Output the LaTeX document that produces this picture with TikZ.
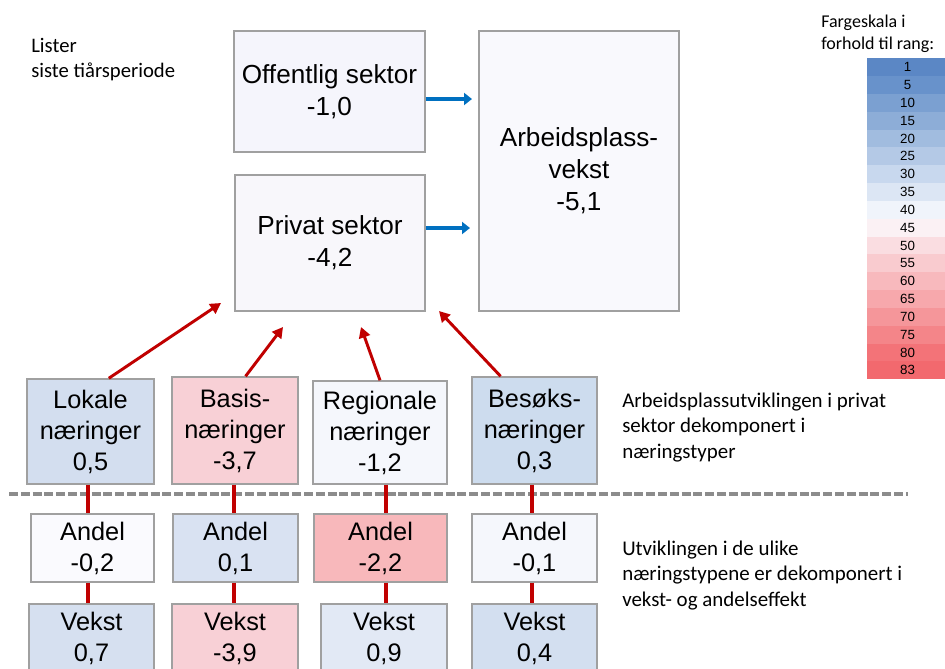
\documentclass[tikz,border=0pt]{standalone}
\usepackage{fontspec}
\setmainfont{Liberation Sans}
\newfontfamily\calib{Carlito}
\usetikzlibrary{arrows.meta}
\definecolor{boxgray}{HTML}{A0A0A0}
\definecolor{darkred}{HTML}{C00000}
\definecolor{arrowblue}{HTML}{0070C0}
\definecolor{dashgray}{HTML}{8C8C8C}
\definecolor{fOff}{HTML}{F5F5FC}
\definecolor{fPriv}{HTML}{F8F7FB}
\definecolor{fArb}{HTML}{F9F9FD}
\definecolor{fLok}{HTML}{D3DEEF}
\definecolor{fBas}{HTML}{F8D0D6}
\definecolor{fReg}{HTML}{F5F7FC}
\definecolor{fBes}{HTML}{CDDCEE}
\definecolor{fAlok}{HTML}{FAFAFE}
\definecolor{fAbas}{HTML}{D9E2F2}
\definecolor{fAreg}{HTML}{F8B8BB}
\definecolor{fAbes}{HTML}{F5F7FC}
\definecolor{fVlok}{HTML}{D6E0F0}
\definecolor{fVbas}{HTML}{F8D0D6}
\definecolor{fVreg}{HTML}{E2E9F5}
\definecolor{fVbes}{HTML}{D3DFF0}
\definecolor{s1}{HTML}{5B87C5}
\definecolor{s5}{HTML}{6892CB}
\definecolor{s10}{HTML}{7BA0D1}
\definecolor{s15}{HTML}{8DADD7}
\definecolor{s20}{HTML}{A1BCDF}
\definecolor{s25}{HTML}{B4C9E6}
\definecolor{s30}{HTML}{C8D8EE}
\definecolor{s35}{HTML}{DCE6F4}
\definecolor{s40}{HTML}{F0F4FB}
\definecolor{s45}{HTML}{FBF1F4}
\definecolor{s50}{HTML}{FADDE1}
\definecolor{s55}{HTML}{F9CBCF}
\definecolor{s60}{HTML}{F8B9BD}
\definecolor{s65}{HTML}{F7A8AC}
\definecolor{s70}{HTML}{F5969A}
\definecolor{s75}{HTML}{F48589}
\definecolor{s80}{HTML}{F37378}
\definecolor{s83}{HTML}{F2696E}
\begin{document}
\begin{tikzpicture}[x=0.75pt,y=-0.75pt,
  box/.style args={#1/#2}{draw=boxgray, line width=1.1pt, inner sep=0pt, align=center,
    minimum width=#1*0.75pt, minimum height=#2*0.75pt},
  topfont/.style={font=\fontsize{19.6}{24}\selectfont},
  botfont/.style={font=\fontsize{19}{23.25}\selectfont},
  bluearrow/.style={draw=arrowblue, line width=2.3pt, -{Triangle[length=6pt,width=9pt]}},
  redarrow/.style={draw=darkred, line width=2.2pt, -{Triangle[length=8pt,width=8.5pt]}},
  redline/.style={draw=darkred, line width=2.4pt},
  sidetext/.style={font=\calib\fontsize{15.7}{19.1}\selectfont, align=left, inner sep=0pt, anchor=north west},
  scalecell/.style={fill=#1, inner sep=0pt, minimum width=78*0.75pt, minimum height=17.9*0.75pt,
    anchor=north west, font=\fontsize{10}{11}\selectfont}
]
\clip (0,0) rectangle (945,668);

% dashed separator (drawn first, red links lie on top)
\coordinate (dl) at (9,494);
\coordinate (dr) at (908,494);
\draw[dashgray, line width=2.3pt, dash pattern=on 6.75pt off 2.1pt] (dl) -- (dr);

% top boxes
\node[box=191/121, topfont, fill=fOff] (offe) at (329.5,91.5) {Offentlig sektor\\-1,0};
\node[box=190/136, topfont, fill=fPriv] (priv) at (330,243) {Privat sektor\\-4,2};
\node[box=200/280, topfont, fill=fArb] (arb) at (579,171) {Arbeidsplass-\\vekst\\-5,1};

\coordinate (tipO) at (472,99);
\coordinate (tipP) at (470,228);
\draw[bluearrow] (offe.east |- tipO) -- (tipO);
\draw[bluearrow] (priv.east |- tipP) -- (tipP);

% industry boxes
\node[box=127/105, botfont, fill=fLok] (lok) at (90.5,431.5) {Lokale\\næringer\\0,5};
\node[box=126/107, botfont, fill=fBas] (bas) at (235,430.5) {Basis-\\næringer\\-3,7};
\node[box=134/103, botfont, fill=fReg] (reg) at (380,432.5) {Regionale\\næringer\\-1,2};
\node[box=125/107, botfont, fill=fBes] (bes) at (534.5,430.5) {Besøks-\\næringer\\0,3};

\coordinate (tipL) at (221,303);
\coordinate (tipB) at (283,327);
\coordinate (tipR) at (361,327);
\coordinate (tipS) at (439,311);
\draw[redarrow] (lok.71.6) -- (tipL);
\draw[redarrow] (bas.79.4) -- (tipB);
\draw[redarrow] (reg.north) -- (tipR);
\draw[redarrow] (bes.122.8) -- (tipS);

% Andel boxes
\node[box=123/68, botfont, fill=fAlok] (alok) at (92.5,548) {Andel\\-0,2};
\node[box=125/68, botfont, fill=fAbas] (abas) at (235.5,548) {Andel\\0,1};
\node[box=133/68, botfont, fill=fAreg] (areg) at (380.5,548) {Andel\\-2,2};
\node[box=125/68, botfont, fill=fAbes] (abes) at (534.5,548) {Andel\\-0,1};

% Vekst boxes
\node[box=125/68, botfont, fill=fVlok] (vlok) at (91.5,638) {Vekst\\0,7};
\node[box=126/68, botfont, fill=fVbas] (vbas) at (235,638) {Vekst\\-3,9};
\node[box=126/68, botfont, fill=fVreg] (vreg) at (384,638) {Vekst\\0,9};
\node[box=125/68, botfont, fill=fVbes] (vbes) at (534.5,638) {Vekst\\0,4};

% vertical red links
\coordinate (x1) at (88,0);
\coordinate (x2) at (234,0);
\coordinate (x3) at (386,0);
\coordinate (x4) at (532,0);
\draw[redline] (lok.south -| x1) -- (alok.north -| x1);
\draw[redline] (alok.south -| x1) -- (vlok.north -| x1);
\draw[redline] (bas.south -| x2) -- (abas.north -| x2);
\draw[redline] (abas.south -| x2) -- (vbas.north -| x2);
\draw[redline] (reg.south -| x3) -- (areg.north -| x3);
\draw[redline] (areg.south -| x3) -- (vreg.north -| x3);
\draw[redline] (bes.south -| x4) -- (abes.north -| x4);
\draw[redline] (abes.south -| x4) -- (vbes.north -| x4);

% side texts
\node[sidetext, font=\calib\fontsize{15.5}{18.75}\selectfont] (lister) at (31,38) {Lister\\siste tiårsperiode};
\node[sidetext] (txt1) at (622,392.5) {Arbeidsplassutviklingen i privat\\sektor dekomponert i\\næringstyper};
\node[sidetext] (txt2) at (622,540.5) {Utviklingen i de ulike\\næringstypene er dekomponert i\\vekst- og andelseffekt};

% colour scale
\node[sidetext, font=\calib\fontsize{13.5}{16.3}\selectfont] (fscale) at (821,14.5) {Fargeskala i\\forhold til rang:};
\foreach \v [count=\i from 0] in {1,5,10,15,20,25,30,35,40,45,50,55,60,65,70,75,80,83}
  \node[scalecell=s\v] (sc\i) at (867,{58+\i*17.83}) {\hspace*{2pt}\v};
\end{tikzpicture}
\end{document}
